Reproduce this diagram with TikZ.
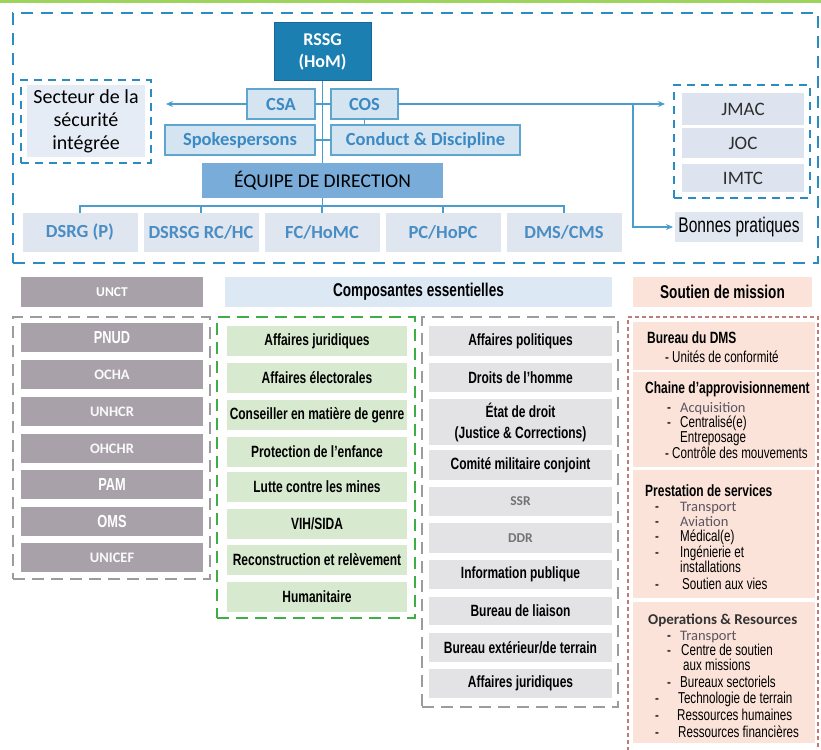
\documentclass[tikz,border=0pt]{standalone}
\usepackage{fontspec}
\setmainfont{Carlito}
\newfontfamily\carl{Carlito}
\newfontfamily\nar[FakeStretch=0.735]{Liberation Sans}
\usetikzlibrary{arrows.meta,calc}

\definecolor{dblue}{HTML}{2B8CC4}
\definecolor{lblue}{HTML}{4A9DCC}
\definecolor{rsfill}{HTML}{1C7FB2}
\definecolor{rsborder}{HTML}{17689A}
\definecolor{tbfill}{HTML}{D4E4F1}
\definecolor{tbline}{HTML}{5EA6CF}
\definecolor{tbtext}{HTML}{3B8AC3}
\definecolor{eqfill}{HTML}{79ACD8}
\definecolor{rowfill}{HTML}{DFE6EF}
\definecolor{rowtext}{HTML}{4A8DC5}
\definecolor{secfill}{HTML}{E5ECF6}
\definecolor{jfill}{HTML}{DDE4EF}
\definecolor{jtext}{HTML}{2E2E2E}
\definecolor{bpfill}{HTML}{E0E7F0}
\definecolor{unctfill}{HTML}{A9A1AA}
\definecolor{compfill}{HTML}{DCE8F4}
\definecolor{pinkfill}{HTML}{FBE3DA}
\definecolor{gdash}{HTML}{3FAE46}
\definecolor{gfill}{HTML}{D7EACF}
\definecolor{gydash}{HTML}{9C9C9C}
\definecolor{gyfill}{HTML}{E3E3E5}
\definecolor{pdash}{HTML}{C27A74}
\definecolor{topgreen}{HTML}{9DD45E}
\definecolor{softgray}{HTML}{5A5560}

\begin{document}
\begin{tikzpicture}[x=1pt,y=-1pt,
  box/.style={anchor=north west, inner sep=0pt, outer sep=0pt, align=center},
  wh/.style 2 args={minimum width=#1, minimum height=#2},
  conn/.style={draw=lblue, line width=1.6pt},
  tip/.style={-{Stealth[length=7pt,width=6pt]}},
  bluedash/.style={draw=dblue, line width=2.2pt, dash pattern=on 8pt off 6pt},
  topbox/.style={box, fill=tbfill, draw=tbline, line width=1.3pt, text=tbtext,
    font=\carl\bfseries\fontsize{18.5}{21}\selectfont},
  rowbox/.style={box, wh={115}{39}, fill=rowfill, text=rowtext,
    font=\carl\bfseries\fontsize{18.5}{21}\selectfont},
  jbox/.style={box, wh={122}{#1}, fill=jfill, text=jtext,
    font=\carl\fontsize{19}{21}\selectfont},
  header/.style={box, wh={#1}{30}, font=\nar\bfseries\fontsize{18.5}{21}\selectfont},
  unctitem/.style={box, wh={182}{29}, fill=unctfill, text=white},
  ua/.style={font=\nar\bfseries\fontsize{17.4}{19}\selectfont},
  ub/.style={text=white!94!unctfill, font=\carl\bfseries\fontsize{14.5}{16}\selectfont},
  greenitem/.style={box, fill=gfill, font=\nar\bfseries\fontsize{16.3}{19}\selectfont},
  grayitem/.style={box, fill=gyfill, font=\nar\bfseries\fontsize{16.3}{21}\selectfont},
  pinksec/.style={box, fill=pinkfill},
  phead/.style={anchor=base west, inner sep=0pt, font=\nar\bfseries\fontsize{16.3}{18}\selectfont},
  pline/.style={anchor=base west, inner sep=0pt, font=\nar\fontsize{15.8}{17}\selectfont},
  psoft/.style={anchor=base west, inner sep=0pt, text=softgray, font=\carl\fontsize{14.5}{17}\selectfont},
  pbul/.style={anchor=base west, inner sep=0pt, text=black!75, font=\nar\bfseries\fontsize{15.8}{17}\selectfont}
]
\useasboundingbox (0,0) rectangle (821,749);
\clip (0,0) rectangle (821,749);

% thin green rule along the top edge
\fill[topgreen] (0,0) rectangle (821,3);

% ---------------- mission leadership frame ----------------
\node[box, wh={805}{250}, draw=dblue, line width=2.8pt, dash pattern=on 12pt off 8pt] (frame) at (13,13) {};

\node[box, wh={97}{58}, fill=rsfill, draw=rsborder, line width=1pt, text=white,
  font=\carl\bfseries\fontsize{18}{22}\selectfont] (rssg) at (274,23) {RSSG\\(HoM)};

\node[topbox, wh={68}{30}]  (csa)     at (247,89)  {CSA};
\node[topbox, wh={67}{30}]  (cos)     at (331,89)  {COS};
\node[topbox, wh={150}{30}] (spokes)  at (165,125) {Spokespersons};
\node[topbox, wh={189}{30}] (conduct) at (331,125) {Conduct \& Discipline};

\node[box, wh={241}{35}, fill=eqfill, text=black,
  font=\carl\fontsize{19.5}{22}\selectfont] (equipe) at (202,163) {ÉQUIPE DE DIRECTION};

\node[rowbox] (dsrg)  at (22.5,213)  {DSRG (P)};
\node[rowbox] (dsrsg) at (143.5,213) {DSRSG RC/HC};
\node[rowbox] (fc)    at (264.5,213) {FC/HoMC};
\node[rowbox] (pc)    at (385.5,213) {PC/HoPC};
\node[rowbox] (dms)   at (506.5,213) {DMS/CMS};

% integrated security sector
\node[box, wh={130}{83}, bluedash] (secteur) at (21,80) {};
\node[box, wh={118}{72}, fill=secfill, text=black,
  font=\carl\fontsize{20}{23}\selectfont] (secteurtxt) at (27,85) {Secteur de la\\sécurité\\intégrée};

% joint centres
\node[box, wh={136}{113}, bluedash] (jgroup) at (674,85) {};
\node[jbox=32] (jmac) at (682,93)  {JMAC};
\node[jbox=30] (joc)  at (682,128) {JOC};
\node[jbox=28] (imtc) at (682,164) {IMTC};

\node[box, wh={128}{30}, fill=bpfill, text=black,
  font=\nar\fontsize{21.2}{23}\selectfont] (bonnes) at (675,212) {Bonnes pratiques};

% connectors of the leadership chart
\draw[conn] (rssg.south) -- (equipe.north);
\draw[conn] (csa.east) -- (cos.west);
\draw[conn] (spokes.east) -- (conduct.west);
\draw[conn] (cos.south) -- (cos.south |- conduct.north);
\draw[conn, tip] (csa.west) -- ($(secteur.east |- csa.west)+(15,0)$);
\coordinate (split) at ($(jgroup.west |- cos.east)+(-41,0)$);
\draw[conn, tip] (cos.east) -- ($(jgroup.west |- cos.east)+(-9,0)$);
\draw[conn, tip] (split) |- ($(bonnes.west)+(-2,0)$);
\coordinate (bus) at ($(equipe.south |- dsrg.north)+(0,-7)$);
\draw[conn] (equipe.south) -- (bus);
\draw[conn] (dsrg.north) -- ++(0,-7) -| (dms.north);
\draw[conn] (dsrsg.north) -- ++(0,-7);
\draw[conn] (fc.north) -- ++(0,-7);
\draw[conn] (pc.north) -- ++(0,-7);

% ---------------- column headers ----------------
\node[header=182, fill=unctfill, text=white, font=\carl\bfseries\fontsize{13.5}{16}\selectfont] (unct) at (21,277) {UNCT};
\node[header=387, fill=compfill] (comp) at (225,277) {Composantes essentielles};
\node[header=179, fill=pinkfill] (soutien) at (633,277) {Soutien de mission};

% ---------------- UN country team ----------------
\node[box, wh={197}{262}, draw=gydash, line width=2pt, dash pattern=on 12pt off 7pt] (unctgroup) at (13,317) {};
\node[unctitem, ua] (pnud)   at (21,323) {PNUD};
\node[unctitem, ub] (ocha)   at (21,360) {OCHA};
\node[unctitem, ub] (unhcr)  at (21,397) {UNHCR};
\node[unctitem, ub] (ohchr)  at (21,434) {OHCHR};
\node[unctitem, ua] (pam)    at (21,470) {PAM};
\node[unctitem, ua] (oms)    at (21,507) {OMS};
\node[unctitem, ub] (unicef) at (21,543) {UNICEF};

% ---------------- substantive components (green) ----------------
\node[box, wh={198}{301}, draw=gdash, line width=2.2pt, dash pattern=on 12pt off 7pt] (greengroup) at (217,317) {};
\foreach \n/\y/\t in {gjur/326/Affaires juridiques, gelec/363/Affaires électorales,
  ggenre/400/Conseiller en matière de genre, genf/437/Protection de l’enfance,
  gmines/472/Lutte contre les mines, gvih/509/{VIH/SIDA},
  grec/545/Reconstruction et relèvement, ghum/582/Humanitaire}
  \node[greenitem, wh={180}{30}] (\n) at (227,\y) {\t};

% ---------------- substantive components (grey) ----------------
\node[box, wh={196}{390}, draw=gydash, line width=2pt, dash pattern=on 12pt off 7pt] (graygroup) at (422,317) {};
\foreach \n/\y/\h/\t in {apol/326/30/Affaires politiques, droits/363/29/Droits de l’homme,
  etat/399/46/{État de droit\\(Justice \& Corrections)}, cmc/450/30/Comité militaire conjoint,
  info/560/29/Information publique, liaison/597/28/Bureau de liaison,
  terrain/633/29/{Bureau extérieur/de terrain}, ajur/669/29/Affaires juridiques}
  \node[grayitem, wh={183}{\h}] (\n) at (429,\y) {\t};
\node[grayitem, wh={183}{29}, text=black!55, font=\carl\bfseries\fontsize{13.5}{16}\selectfont] (ssr) at (429,487) {SSR};
\node[grayitem, wh={183}{30}, text=black!55, font=\carl\bfseries\fontsize{13.5}{16}\selectfont] (ddr) at (429,523) {DDR};

% ---------------- mission support ----------------
\node[box, wh={190}{450}, draw=pdash, line width=1.2pt, dash pattern=on 4pt off 3pt] (support) at (628,317) {};
\node[pinksec, wh={182}{48}]  (sdms)   at (633,322) {};
\node[pinksec, wh={182}{95}]  (schain) at (633,372) {};
\node[pinksec, wh={182}{128}] (sserv)  at (633,470) {};
\node[pinksec, wh={182}{141}] (sops)   at (633,602) {};

\node[phead] (hdms)   at (647,343) {Bureau du DMS};
\node[phead] (hchain) at (645,393) {Chaine d’approvisionnement};
\node[phead] (hserv)  at (645,496) {Prestation de services};
\node[anchor=base west, inner sep=0pt, text=black!80, font=\carl\bfseries\fontsize{15}{18}\selectfont] (hops) at (648,624) {Operations \& Resources};

% bullet marks
\foreach \n/\x/\y in {b1/665/362, b2/667/412, b3/667/427, b4/665/458,
  b5/655/511, b6/655/526, b7/655/541, b8/655/557, b9/655/589,
  b10/667/640, b11/667/655.5, b12/667/687, b13/655/703.5, b14/655/720, b15/655/737}
  \node[pbul] (\n) at (\x,\y) {-};

% bullet texts
\foreach \n/\x/\y/\t in {t1/672/362/Unités de conformité, t3/680/427/Centralisé(e),
  t3b/680/442/Entreposage, t4/672/458/Contrôle des mouvements,
  t7/680/541/Médical(e), t8/680/557/Ingénierie et, t8b/680/572/installations,
  t9/682/589/Soutien aux vies,
  t12/680/687/Bureaux sectoriels, t13/678/703.5/Technologie de terrain,
  t14/677/720/Ressources humaines, t15/678/737/Ressources financières}
  \node[pline] (\n) at (\x,\y) {\t};
% two-line item: the base anchor sits on the last line
\node[pline, align=left, font=\nar\fontsize{15.8}{15}\selectfont] (t11) at (681,670.5)
  {Centre de soutien\\\hspace*{2pt}aux missions};
\foreach \n/\x/\y/\t in {t2/680/412/Acquisition, t5/680/511/Transport,
  t6/680/526/Aviation, t10/680/640/Transport}
  \node[psoft] (\n) at (\x,\y) {\t};
\end{tikzpicture}
\end{document}
